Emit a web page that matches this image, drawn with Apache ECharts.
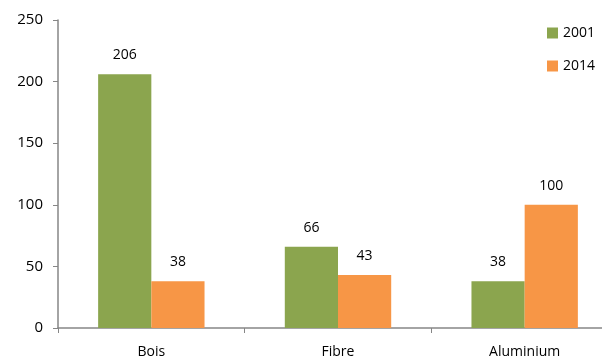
<!DOCTYPE html>
<html>
<head>
<meta charset="utf-8">
<script src="https://cdn.jsdelivr.net/npm/echarts@6/dist/echarts.min.js"></script>
<style>
  html, body { margin: 0; padding: 0; background: #fff; }
  #chart { width: 602px; height: 360px; }
</style>
</head>
<body>
<div id="chart"></div>
<script>
  const categories = ['Bois', 'Fibre', 'Aluminium']
  const values2001 = [206, 66, 38]
  const values2014 = [38, 43, 100]
  const seriesNames = ['2001', '2014']

  const axisColor = '#868686'
  const textColor = '#000'
  const font = 'Open Sans'

  const chart = echarts.init(document.getElementById('chart'))
  const labelStyle = {
    show: true,
    position: 'top',
    distance: 12,
    color: textColor,
    fontSize: 14,
    fontFamily: font
  }
  chart.setOption({
    animation: false,
    textStyle: { fontFamily: font },
    // plot area runs a bit past the right edge, like the cropped original
    grid: { left: 58, right: -16, top: 20, bottom: 32, outerBoundsMode: 'none' },
    legend: {
      orient: 'vertical',
      right: 2,
      top: 21,
      itemWidth: 11,
      itemHeight: 11,
      itemGap: 19,
      icon: 'rect',
      textStyle: { color: textColor, fontSize: 14, fontFamily: font }
    },
    xAxis: {
      type: 'category',
      data: categories,
      axisLine: { lineStyle: { color: axisColor, width: 1.5 } },
      axisTick: { show: true, length: 5, lineStyle: { color: axisColor } },
      axisLabel: { color: textColor, fontSize: 14, margin: 17 }
    },
    yAxis: {
      type: 'value',
      min: 0,
      max: 250,
      interval: 50,
      axisLine: { show: true, lineStyle: { color: axisColor, width: 1.5 } },
      axisTick: { show: true, length: 5, lineStyle: { color: axisColor } },
      axisLabel: { color: textColor, fontSize: 15, margin: 15 },
      splitLine: { show: false }
    },
    series: [
      {
        name: seriesNames[0],
        type: 'bar',
        data: values2001,
        barGap: '0%',
        barCategoryGap: '43%',
        itemStyle: { color: '#8ba54e' },
        label: labelStyle
      },
      {
        name: seriesNames[1],
        type: 'bar',
        data: values2014,
        itemStyle: { color: '#f79646' },
        label: labelStyle
      }
    ]
  })
</script>
</body>
</html>
